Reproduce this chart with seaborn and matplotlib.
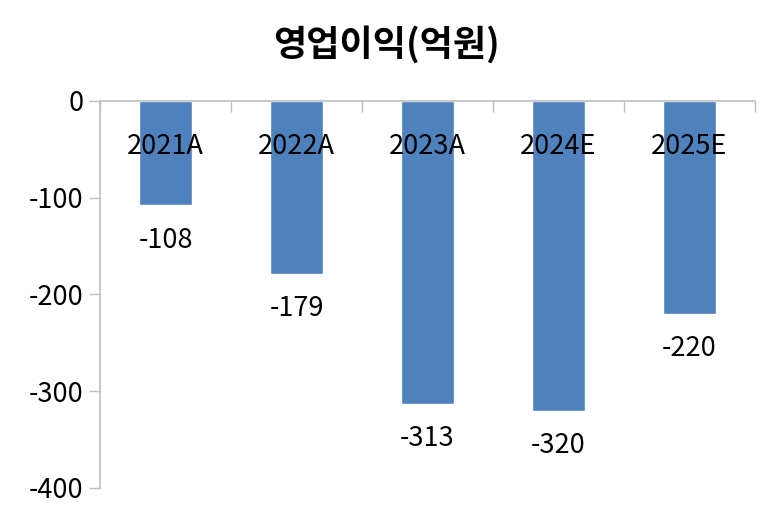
import matplotlib
matplotlib.use("Agg")
import matplotlib.pyplot as plt
import seaborn as sns
import pandas as pd

# 영업이익 데이터
years = ["2021A", "2022A", "2023A", "2024E", "2025E"]
profit = [-108, -179, -313, -320, -220]

sns.set_style("white")
plt.rcParams['font.family'] = ['Noto Sans CJK KR', 'DejaVu Sans']
plt.rcParams['axes.unicode_minus'] = False
plt.rcParams['text.color'] = 'black'
plt.rcParams['ytick.labelcolor'] = 'black'

df = pd.DataFrame({"year": years, "profit": profit})

fig = plt.figure(figsize=(7.73, 5.16), dpi=100)
ax = fig.add_axes([0.1294, 0.0543, 0.8473, 0.75])

sns.barplot(data=df, x="year", y="profit", color="#4F81BD", width=0.4,
            saturation=1, ax=ax)

ax.set_ylim(-400, 0)
ax.set_xlim(-0.5, len(years) - 0.5)
ax.set_yticks([0, -100, -200, -300, -400])
ax.tick_params(axis='y', labelsize=19.5, length=8, color='#BFBFBF', width=1,
               left=True, pad=4, labelcolor='black')

# 카테고리 라벨은 막대 안쪽 위에
ax.set_xticks([i - 0.5 for i in range(len(years) + 1)])
ax.set_xticklabels([])
ax.xaxis.set_ticks_position('top')
ax.tick_params(axis='x', direction='in', length=8, color='#BFBFBF', width=1)
for i, y in enumerate(years):
    ax.text(i, -47, y, ha='center', va='center', fontsize=19.5, color='black')

for i, v in enumerate(profit):
    ax.annotate(str(v), (i, v), xytext=(0, -25), textcoords='offset points',
                ha='center', va='center', fontsize=19.5, color='black')

for s in ['right', 'bottom']:
    ax.spines[s].set_visible(False)
for s in ['left', 'top']:
    ax.spines[s].set_color('#BFBFBF')
    ax.spines[s].set_linewidth(1.2)

ax.set_xlabel("")
ax.set_ylabel("")
fig.text(0.5, 0.913, "영업이익(억원)", fontsize=26, fontweight='bold',
         ha='center', va='center', color='black')

fig.savefig("out.png", dpi=100)
